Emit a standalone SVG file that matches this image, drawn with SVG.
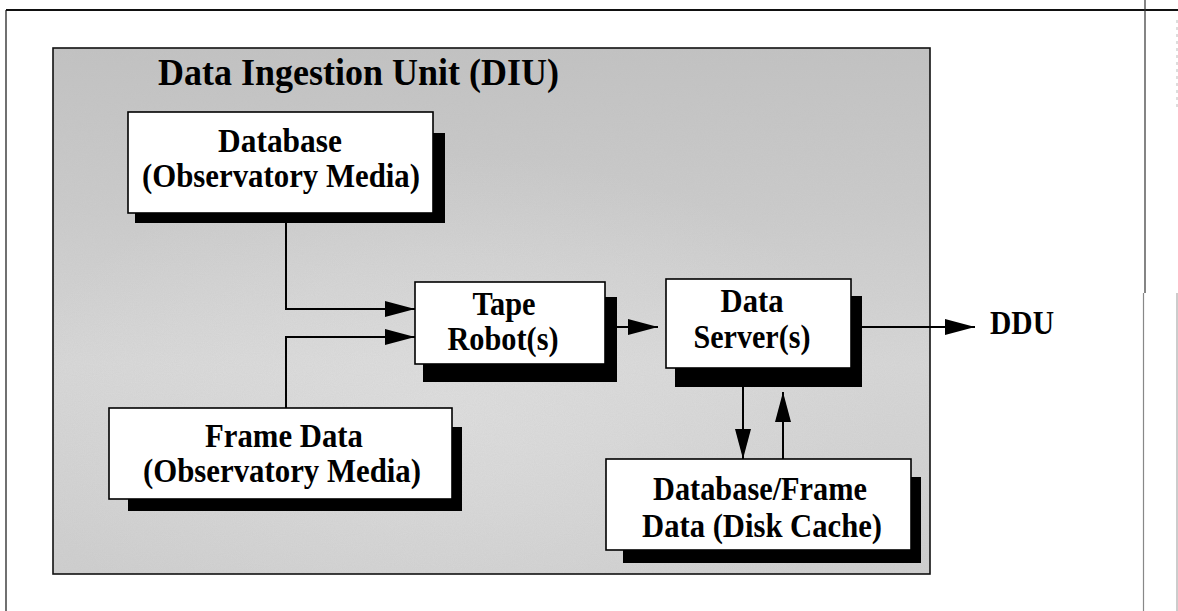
<svg xmlns="http://www.w3.org/2000/svg" width="1178" height="611" viewBox="0 0 1178 611">
  <style>
    .box { fill: #ffffff; stroke: #000000; stroke-width: 1.6; }
    .shadow { fill: #000000; }
    .lbl { font-family: "Liberation Serif", "Times New Roman", serif; font-weight: bold; font-size: 33px; fill: #000000; text-anchor: middle; }
    .title { font-family: "Liberation Serif", "Times New Roman", serif; font-weight: bold; font-size: 37px; fill: #000000; }
    .conn { fill: none; stroke: #000000; stroke-width: 2; }
    .frame { stroke: #111111; fill: none; }
  </style>
  <defs>
    <marker id="arrow" viewBox="0 0 30 16" refX="30" refY="8" markerWidth="30" markerHeight="16" markerUnits="userSpaceOnUse" orient="auto">
      <path d="M0,0 L30,8 L0,16 Z" fill="#000000"/>
    </marker>
    <linearGradient id="panelGrad" x1="0" y1="0" x2="0" y2="1">
      <stop offset="0" stop-color="#c2c2c2"/>
      <stop offset="0.3" stop-color="#cbcbcb"/>
      <stop offset="0.6" stop-color="#d8d8d8"/>
      <stop offset="1" stop-color="#cfcfcf"/>
    </linearGradient>
    <radialGradient id="patch" cx="0.45" cy="0.7" r="0.5">
      <stop offset="0" stop-color="#e6e6e6" stop-opacity="0.55"/>
      <stop offset="1" stop-color="#e6e6e6" stop-opacity="0"/>
    </radialGradient>
    <filter id="grain" x="0" y="0" width="100%" height="100%">
      <feTurbulence type="fractalNoise" baseFrequency="0.9" numOctaves="1" seed="3" result="n"/>
      <feColorMatrix in="n" type="matrix" values="0 0 0 0 0.5  0 0 0 0 0.5  0 0 0 0 0.5  0 0 0 0.25 0" result="g"/>
      <feComposite in="g" in2="SourceGraphic" operator="in"/>
    </filter>
  </defs>

  <rect x="0" y="0" width="1178" height="611" fill="#ffffff"/>

  <g id="page-frame">
    <line class="frame" x1="6" y1="10" x2="1178" y2="10" stroke-width="2"/>
    <line class="frame" x1="6" y1="10" x2="6" y2="611" stroke-width="1.2"/>
    <line x1="1145" y1="0" x2="1145" y2="293" stroke="#333333" stroke-width="1.2"/>
    <line x1="1143.5" y1="293" x2="1143.5" y2="611" stroke="#888888" stroke-width="1.2"/>
    <line x1="1177" y1="20" x2="1177" y2="107" stroke="#bbbbbb" stroke-width="1" stroke-dasharray="3 4"/>
    <line x1="1177" y1="293" x2="1177" y2="611" stroke="#999999" stroke-width="1"/>
  </g>

  <g id="diu-panel">
    <rect x="53" y="48" width="877" height="526" fill="url(#panelGrad)"/>
    <rect x="53" y="48" width="877" height="526" fill="url(#patch)"/>
    <rect x="53" y="48" width="877" height="526" fill="#ffffff" filter="url(#grain)"/>
    <rect x="53" y="48" width="877" height="526" fill="none" stroke="#111111" stroke-width="1.6"/>
    <text class="title" x="158" y="85" textLength="401" lengthAdjust="spacingAndGlyphs">Data Ingestion Unit (DIU)</text>
  </g>

  <g id="connectors">
    <path class="conn" d="M286,213 V309 H415" marker-end="url(#arrow)"/>
    <path class="conn" d="M286,408 V337 H415" marker-end="url(#arrow)"/>
    <path class="conn" d="M617,327 H658" marker-end="url(#arrow)"/>
    <path class="conn" d="M862,327 H975" marker-end="url(#arrow)"/>
    <path class="conn" d="M743,387 V459" marker-end="url(#arrow)"/>
    <path class="conn" d="M783,459 V392" marker-end="url(#arrow)"/>
  </g>

  <g id="database">
    <rect class="shadow" x="135" y="133" width="310" height="90"/>
    <rect class="box" x="128" y="112" width="305" height="101"/>
    <text class="lbl" x="280" y="152" textLength="124" lengthAdjust="spacingAndGlyphs">Database</text>
    <text class="lbl" x="281" y="187" textLength="278" lengthAdjust="spacingAndGlyphs">(Observatory Media)</text>
  </g>

  <g id="frame-data">
    <rect class="shadow" x="128" y="427" width="334" height="84"/>
    <rect class="box" x="109" y="408" width="343" height="91"/>
    <text class="lbl" x="284" y="447" textLength="158" lengthAdjust="spacingAndGlyphs">Frame Data</text>
    <text class="lbl" x="282" y="482" textLength="278" lengthAdjust="spacingAndGlyphs">(Observatory Media)</text>
  </g>

  <g id="tape-robots">
    <rect class="shadow" x="423" y="297" width="194" height="85"/>
    <rect class="box" x="415" y="282" width="190" height="82"/>
    <text class="lbl" x="504" y="315" textLength="63" lengthAdjust="spacingAndGlyphs">Tape</text>
    <text class="lbl" x="503" y="350" textLength="111" lengthAdjust="spacingAndGlyphs">Robot(s)</text>
  </g>

  <g id="data-servers">
    <rect class="shadow" x="675" y="296" width="187" height="91"/>
    <rect class="box" x="666" y="279" width="185" height="89"/>
    <text class="lbl" x="752" y="312" textLength="63" lengthAdjust="spacingAndGlyphs">Data</text>
    <text class="lbl" x="752" y="348" textLength="117" lengthAdjust="spacingAndGlyphs">Server(s)</text>
  </g>

  <g id="disk-cache">
    <rect class="shadow" x="623" y="477" width="298" height="86"/>
    <rect class="box" x="606" y="459" width="305" height="91"/>
    <text class="lbl" x="760" y="500" textLength="214" lengthAdjust="spacingAndGlyphs">Database/Frame</text>
    <text class="lbl" x="762" y="537" textLength="240" lengthAdjust="spacingAndGlyphs">Data (Disk Cache)</text>
  </g>

  <g id="ddu">
    <text class="lbl" x="990" y="334" style="text-anchor:start" textLength="64" lengthAdjust="spacingAndGlyphs">DDU</text>
  </g>
</svg>
